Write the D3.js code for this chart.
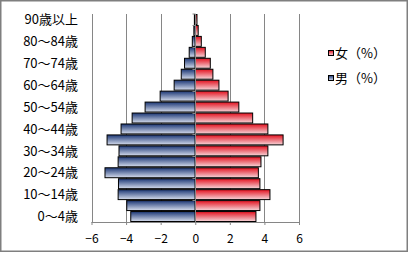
<!DOCTYPE html>
<html>
<head>
<meta charset="utf-8">
<script src="https://cdn.jsdelivr.net/npm/d3@7"></script>
<style>
    body { margin: 0; background: #fff; }
    text { font-family: "Noto Sans CJK JP", "Noto Sans", sans-serif; fill: #000; }
</style>
</head>
<body>
<svg id="pyramid-svg"></svg>
<script>
// age groups, bottom to top
const ages = ['0〜4歳', '5〜9歳', '10〜14歳', '15〜19歳', '20〜24歳', '25〜29歳', '30〜34歳',
    '35〜39歳', '40〜44歳', '45〜49歳', '50〜54歳', '55〜59歳', '60〜64歳', '65〜69歳',
    '70〜74歳', '75〜79歳', '80〜84歳', '85〜89歳', '90歳以上'];
const male = [3.73, 3.96, 4.46, 4.44, 5.22, 4.46, 4.41, 5.1, 4.29, 3.65, 2.9, 2.03, 1.22,
    0.81, 0.62, 0.35, 0.17, 0.08, 0.05];
const female = [3.51, 3.74, 4.32, 3.74, 3.65, 3.8, 4.2, 5.08, 4.2, 3.32, 2.52, 1.9, 1.37,
    1.02, 0.87, 0.58, 0.35, 0.17, 0.1];
const xTicks = [-6, -4, -2, 0, 2, 4, 6];
const seriesNames = ['女（%）', '男（%）'];

const width = 409, height = 253;
const plot = { left: 91.5, right: 299, top: 14, bottom: 222 };
const gridColor = '#868686';

const svg = d3.select('#pyramid-svg')
    .attr('width', width)
    .attr('height', height);

// gradients
const defs = svg.append('defs');
const grad = (id, top, bottom) => {
    const g = defs.append('linearGradient').attr('id', id)
        .attr('x1', 0).attr('y1', 0).attr('x2', 0).attr('y2', 1);
    g.append('stop').attr('offset', '0%').attr('stop-color', top);
    g.append('stop').attr('offset', '100%').attr('stop-color', bottom);
};
grad('blue-grad', '#1c3775', '#d6dded');
grad('red-grad', '#e3111f', '#f6d6da');

// outer frame
svg.append('rect')
    .attr('x', 0.75).attr('y', 0.75)
    .attr('width', width - 2.5).attr('height', height - 2.5)
    .attr('fill', 'white')
    .attr('stroke', '#7f7f7f')
    .attr('stroke-width', 1.5);

const x = d3.scaleLinear().domain([-6, 6]).range([plot.left, plot.right]);
const y = d3.scaleBand()
    .domain(ages.slice().reverse())
    .range([plot.top, plot.bottom])
    .padding(0);

// gridlines
svg.append('g')
    .selectAll('line')
    .data(xTicks.filter(d => d !== 0))
    .join('line')
    .attr('x1', d => Math.round(x(d)) + 0.5)
    .attr('x2', d => Math.round(x(d)) + 0.5)
    .attr('y1', plot.top)
    .attr('y2', plot.bottom)
    .attr('stroke', gridColor);

// male bars (left)
svg.append('g')
    .selectAll('rect')
    .data(ages)
    .join('rect')
    .attr('x', (d, i) => x(-male[i]))
    .attr('width', (d, i) => x(0) - x(-male[i]))
    .attr('y', d => y(d) + 0.5)
    .attr('height', y.bandwidth() - 1)
    .attr('fill', 'url(#blue-grad)')
    .attr('stroke', '#000')
    .attr('stroke-width', 1);

// female bars (right)
svg.append('g')
    .selectAll('rect')
    .data(ages)
    .join('rect')
    .attr('x', x(0))
    .attr('width', (d, i) => x(female[i]) - x(0))
    .attr('y', d => y(d) + 0.5)
    .attr('height', y.bandwidth() - 1)
    .attr('fill', 'url(#red-grad)')
    .attr('stroke', '#000')
    .attr('stroke-width', 1);

// x axis
const xAxis = svg.append('g')
    .attr('transform', `translate(0, ${plot.bottom})`)
    .call(d3.axisBottom(x).tickValues(xTicks).tickSize(3).tickPadding(9).tickFormat(d3.format('d')));
xAxis.select('.domain').attr('stroke', gridColor).attr('d', `M${plot.left},0.5H${plot.right}`);
xAxis.selectAll('.tick line').attr('stroke', gridColor);
xAxis.selectAll('.tick text')
    .attr('font-size', 12)
    .style('font-family', '"Noto Sans CJK JP", sans-serif');

// category axis on zero line
const zx = Math.round(x(0)) + 0.5;
svg.append('line')
    .attr('x1', zx).attr('x2', zx)
    .attr('y1', plot.top).attr('y2', plot.bottom)
    .attr('stroke', gridColor);
svg.append('g')
    .selectAll('line')
    .data(ages.filter((d, i) => i % 2 === 0).concat(['end']))
    .join('line')
    .attr('x1', zx - 3).attr('x2', zx)
    .attr('y1', d => d === 'end' ? plot.top : Math.round(y(d) + y.bandwidth()) + 0.5)
    .attr('y2', d => d === 'end' ? plot.top : Math.round(y(d) + y.bandwidth()) + 0.5)
    .attr('stroke', gridColor);

// category labels (every other)
svg.append('g')
    .selectAll('text')
    .data(ages.filter((d, i) => i % 2 === 0))
    .join('text')
    .attr('x', 78)
    .attr('y', d => y(d) + y.bandwidth() / 2)
    .attr('dy', '0.36em')
    .attr('text-anchor', 'end')
    .attr('font-size', 13)
    .text(d => d);

// legend
const legend = svg.append('g')
    .selectAll('g')
    .data(seriesNames)
    .join('g')
    .attr('transform', (d, i) => `translate(328, ${53 + i * 25})`);
legend.append('rect')
    .attr('x', 0.5).attr('y', -2.5)
    .attr('width', 5).attr('height', 5)
    .attr('fill', (d, i) => i === 0 ? 'url(#red-grad)' : 'url(#blue-grad)')
    .attr('stroke', '#000');
legend.append('text')
    .attr('x', 7)
    .attr('dy', '0.36em')
    .attr('font-size', 13)
    .text(d => d);
</script>
</body>
</html>
